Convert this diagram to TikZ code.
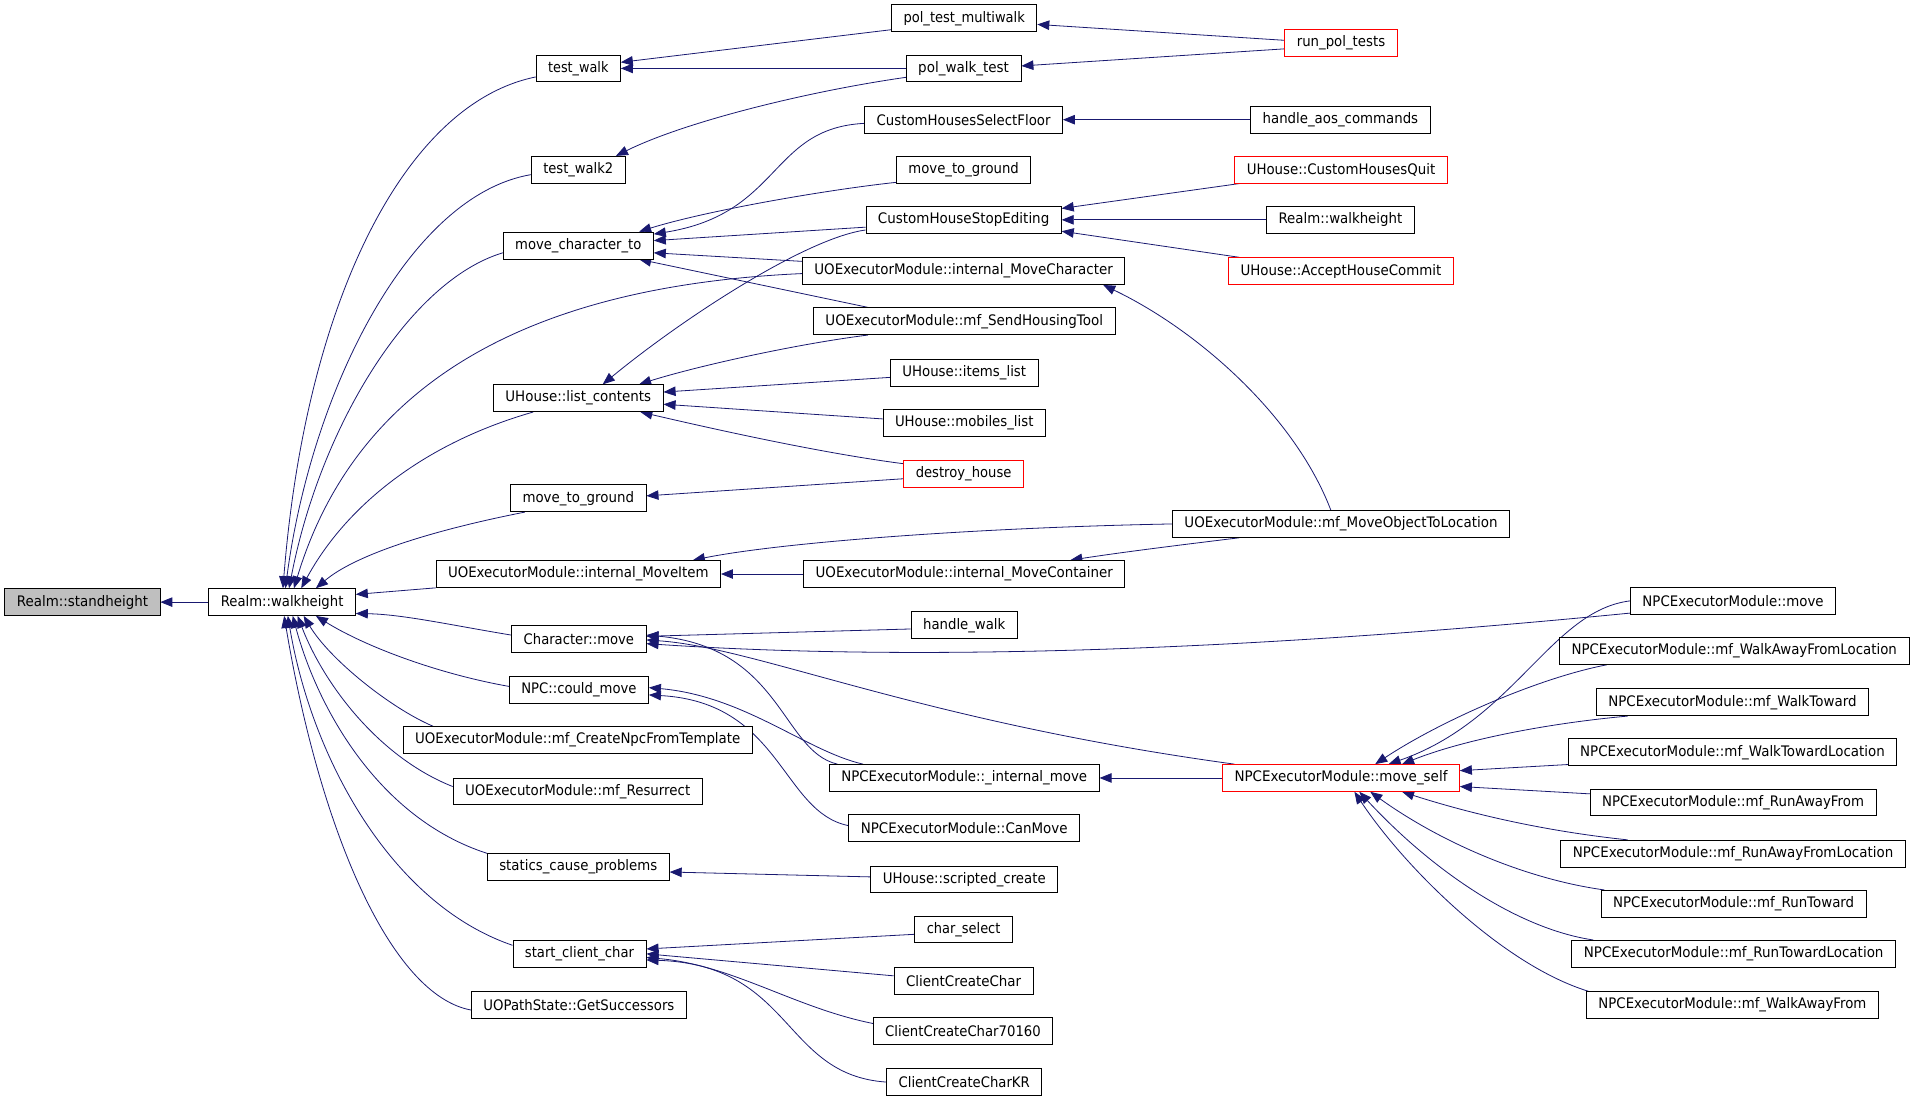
\documentclass[tikz,border=0pt]{standalone}
\usepackage{fontspec}
\setmainfont{DejaVu Sans}
\usetikzlibrary{arrows.meta,calc}
\definecolor{edgeblue}{RGB}{25,25,112}
\definecolor{selgray}{RGB}{191,191,191}
\pgfdeclarelayer{back}
\pgfdeclarelayer{edges}
\pgfsetlayers{back,edges,main}
\newsavebox\lblbox
\newdimen\lblw
\newcommand\fitlbl[2]{\sbox\lblbox{#2}\lblw=\wd\lblbox\pgfmathsetmacro\fitf{(#1)/\the\lblw}\scalebox{\fitf}[1]{\usebox\lblbox}}
\newcommand\bx[7][]{%
  \pgfmathsetmacro\bxw{(#5-#3)*1.2213}%
  \pgfmathsetmacro\bxh{(#6-#4)*1.2213}%
  \pgfmathsetmacro\bxt{\bxw-24}%
  \node[box,#1,minimum width=\bxw pt,minimum height=\bxh pt] (#2) at ({(#3+#5)/2},{(#4+#6)/2}) {\fitlbl{\bxt}{#7}};}
\begin{document}
\begin{tikzpicture}[x=1.2213pt,y=-1.2213pt,
  box/.style={draw=black,line width=0.8pt,fill=white,inner sep=0pt,font=\fontsize{14.5}{16}\selectfont},
  redbox/.style={draw=red},
  edge/.style={draw=edgeblue,line width=0.8pt,-{Triangle[length=12pt,width=9.5pt]}}]
\begin{pgfonlayer}{back}
\fill[white] (0,0) rectangle (1568,901);
\end{pgfonlayer}
\useasboundingbox (0,0) rectangle (1568,901);
% column 1
\bx[fill=selgray]{sh}{4}{482}{131}{504}{Realm::standheight}
\bx{wh}{171}{482}{291}{504}{Realm::walkheight}
% column 2
\bx{tw}{439}{45}{508}{67}{test\_walk}
\bx{tw2}{435}{128}{512}{150}{test\_walk2}
\bx{mct}{412}{190}{535}{212}{move\_character\_to}
\bx{lc}{404}{315}{543}{337}{UHouse::list\_contents}
\bx{mtg}{418}{397}{529}{419}{move\_to\_ground}
\bx{mi}{357}{459}{590}{481}{UOExecutorModule::internal\_MoveItem}
\bx{cm}{419}{512}{529}{534}{Character::move}
\bx{ncm}{417}{554}{531}{576}{NPC::could\_move}
\bx{cnft}{330}{595}{616}{617}{UOExecutorModule::mf\_CreateNpcFromTemplate}
\bx{res}{371}{637}{575}{659}{UOExecutorModule::mf\_Resurrect}
\bx{scp}{399}{699}{548}{721}{statics\_cause\_problems}
\bx{scc}{420}{770}{529}{792}{start\_client\_char}
\bx{gs}{386}{812}{562}{834}{UOPathState::GetSuccessors}
% column 3
\bx{ptm}{730}{4}{849}{26}{pol\_test\_multiwalk}
\bx{pwt}{742}{45}{836}{67}{pol\_walk\_test}
\bx{chsf}{708}{87}{870}{109}{CustomHousesSelectFloor}
\bx{mtg2}{734}{128}{844}{150}{move\_to\_ground}
\bx{chse}{709}{169}{869}{191}{CustomHouseStopEditing}
\bx{imc}{657}{211}{921}{233}{UOExecutorModule::internal\_MoveCharacter}
\bx{sht}{666}{252}{913}{274}{UOExecutorModule::mf\_SendHousingTool}
\bx{il}{729}{294}{850}{316}{UHouse::items\_list}
\bx{ml}{723}{335}{856}{357}{UHouse::mobiles\_list}
\bx[redbox]{dh}{740}{377}{838}{399}{destroy\_house}
\bx{imcont}{658}{459}{921}{481}{UOExecutorModule::internal\_MoveContainer}
\bx{hw}{746}{501}{833}{523}{handle\_walk}
\bx{nim}{679}{626}{900}{648}{NPCExecutorModule::\_internal\_move}
\bx{cmv}{695}{667}{884}{689}{NPCExecutorModule::CanMove}
\bx{usc}{713}{709}{866}{731}{UHouse::scripted\_create}
\bx{cs}{749}{750}{829}{772}{char\_select}
\bx{ccc}{732}{792}{846}{814}{ClientCreateChar}
\bx{ccc7}{715}{833}{862}{855}{ClientCreateChar70160}
\bx{ccck}{726}{875}{853}{897}{ClientCreateCharKR}
% column 4
\bx[redbox]{rpt}{1052}{24}{1144}{46}{run\_pol\_tests}
\bx{hac}{1024}{87}{1171}{109}{handle\_aos\_commands}
\bx[redbox]{chq}{1011}{128}{1185}{150}{UHouse::CustomHousesQuit}
\bx{wh2}{1037}{169}{1158}{191}{Realm::walkheight}
\bx[redbox]{ahc}{1006}{211}{1190}{233}{UHouse::AcceptHouseCommit}
\bx{mol}{960}{418}{1236}{440}{UOExecutorModule::mf\_MoveObjectToLocation}
\bx[redbox]{ms}{1001}{626}{1195}{648}{NPCExecutorModule::move\_self}
% column 5
\bx{nm}{1335}{481}{1503}{503}{NPCExecutorModule::move}
\bx{wafl}{1277}{522}{1563}{544}{NPCExecutorModule::mf\_WalkAwayFromLocation}
\bx{wt}{1307}{564}{1530}{586}{NPCExecutorModule::mf\_WalkToward}
\bx{wtl}{1284}{605}{1553}{627}{NPCExecutorModule::mf\_WalkTowardLocation}
\bx{raf}{1302}{646}{1536}{668}{NPCExecutorModule::mf\_RunAwayFrom}
\bx{rafl}{1278}{688}{1560}{710}{NPCExecutorModule::mf\_RunAwayFromLocation}
\bx{rt}{1311}{729}{1528}{751}{NPCExecutorModule::mf\_RunToward}
\bx{rtl}{1287}{770}{1552}{792}{NPCExecutorModule::mf\_RunTowardLocation}
\bx{waf}{1299}{812}{1538}{834}{NPCExecutorModule::mf\_WalkAwayFrom}

\begin{pgfonlayer}{edges}
% into standheight
\draw[edge] (wh.west) -- (sh.east);
% into walkheight (top)
\draw[edge] ($(tw.west)+(0,7)$) .. controls (330,85) and (250,250) .. ($(wh.north west)+(61,0)$);
\draw[edge] ($(tw2.west)+(0,4)$) .. controls (335,160) and (255,320) .. ($(wh.north west)+(63,0)$);
\draw[edge] ($(mct.west)+(0,6)$) .. controls (335,230) and (262,350) .. ($(wh.north west)+(66,0)$);
\draw[edge] ($(imc.west)+(0,2)$) .. controls (480,232) and (300,285) .. ($(wh.north west)+(70,0)$);
\draw[edge] ($(lc.south west)+(33,0)$) .. controls (340,365) and (280,420) .. ($(wh.north west)+(76,0)$);
\draw[edge] ($(mtg.south west)+(12,0)$) .. controls (350,435) and (290,455) .. ($(wh.north west)+(88,0)$);
% into walkheight (right)
\draw[edge] ($(mi.south west)+(0,0)$) -- ($(wh.north east)+(0,5)$);
\draw[edge] ($(cm.west)+(0,-3)$) .. controls (370,512) and (330,503) .. ($(wh.south east)+(0,-2)$);
% into walkheight (bottom)
\draw[edge] ($(ncm.west)+(0,-3)$) .. controls (360,552) and (300,530) .. ($(wh.south west)+(88,0)$);
\draw[edge] ($(cnft.north west)+(25,0)$) .. controls (320,580) and (270,540) .. ($(wh.south west)+(78,0)$);
\draw[edge] ($(res.west)+(0,-4)$) .. controls (310,620) and (265,560) .. ($(wh.south west)+(73,0)$);
\draw[edge] (scp.north west) .. controls (310,670) and (260,580) .. ($(wh.south west)+(69,0)$);
\draw[edge] ($(scc.west)+(0,-7)$) .. controls (320,740) and (255,620) .. ($(wh.south west)+(65,0)$);
\draw[edge] ($(gs.west)+(0,4)$) .. controls (320,815) and (262,680) .. ($(wh.south west)+(62,0)$);
% test_walk, test_walk2
\draw[edge] ($(ptm.south west)+(0,-2)$) -- ($(tw.east)+(0,-5)$);
\draw[edge] (pwt.west) -- (tw.east);
\draw[edge] ($(pwt.south west)+(0,-4)$) .. controls (660,75) and (560,100) .. ($(tw2.north east)+(-8,0)$);
\draw[edge] ($(rpt.west)+(0,-2)$) -- ($(ptm.east)+(0,5)$);
\draw[edge] ($(rpt.west)+(0,5)$) -- ($(pwt.east)+(0,-2)$);
% CustomHousesSelectFloor, CustomHouseStopEditing
\draw[edge] (hac.west) -- (chsf.east);
\draw[edge] ($(chq.south west)+(4,0)$) -- ($(chse.north east)+(0,2)$);
\draw[edge] (wh2.west) -- (chse.east);
\draw[edge] ($(ahc.north west)+(9,0)$) -- ($(chse.south east)+(0,-2)$);
\draw[edge] ($(mol.north west)+(130,0)$) .. controls (1060,340) and (980,270) .. ($(imc.south east)+(-18,0)$);
% move_character_to
\draw[edge] ($(chsf.west)+(0,3)$) .. controls (630,105) and (640,175) .. ($(mct.north east)+(0,2)$);
\draw[edge] ($(mtg2.south west)+(0,-1)$) .. controls (680,155) and (580,172) .. ($(mct.north east)+(-12,0)$);
\draw[edge] ($(chse.west)+(0,6)$) -- ($(mct.east)+(0,-4)$);
\draw[edge] ($(imc.west)+(0,-8)$) -- ($(mct.east)+(0,6)$);
\draw[edge] ($(sht.north west)+(45,0)$) -- ($(mct.south east)+(-12,0)$);
% list_contents
\draw[edge] ($(chse.south west)+(0,-3)$) .. controls (660,195) and (560,260) .. ($(lc.north)+(20,0)$);
\draw[edge] ($(sht.south west)+(45,0)$) .. controls (650,282) and (570,300) .. ($(lc.north east)+(-20,0)$);
\draw[edge] ($(il.west)+(0,4)$) -- ($(lc.east)+(0,-5)$);
\draw[edge] ($(ml.west)+(0,-3)$) -- ($(lc.east)+(0,5)$);
\draw[edge] ($(dh.north west)+(0,3)$) .. controls (680,372) and (600,355) .. ($(lc.south east)+(-19,0)$);
% move_to_ground
\draw[edge] ($(dh.west)+(0,4)$) -- ($(mtg.east)+(0,-2)$);
% internal_MoveItem / internal_MoveContainer
\draw[edge] (mol.west) .. controls (800,432) and (640,444) .. ($(mi.north east)+(-23,0)$);
\draw[edge] (imcont.west) -- (mi.east);
\draw[edge] ($(mol.south west)+(55,0)$) .. controls (960,447) and (920,452) .. ($(imcont.north east)+(-45,0)$);
% Character::move
\draw[edge] ($(hw.west)+(0,3)$) -- ($(cm.east)+(0,-2)$);
\draw[edge] ($(nm.west)+(0,10)$) .. controls (1100,525) and (800,545) .. ($(cm.east)+(0,4)$);
\draw[edge] ($(nim.north west)+(7,0)$) .. controls (640,615) and (640,530) .. ($(cm.east)+(0,-3)$);
\draw[edge] ($(ms.north west)+(10,0)$) .. controls (750,590) and (620,530) .. ($(cm.east)+(0,1)$);
% NPC::could_move
\draw[edge] ($(nim.north west)+(28,0)$) .. controls (660,615) and (610,570) .. ($(ncm.east)+(0,-2)$);
\draw[edge] ($(cmv.west)+(0,-2)$) .. controls (640,665) and (640,575) .. ($(ncm.east)+(0,4)$);
% statics_cause_problems
\draw[edge] ($(usc.west)+(0,-2)$) -- ($(scp.east)+(0,4)$);
% start_client_char
\draw[edge] ($(cs.west)+(0,4)$) -- ($(scc.east)+(0,-4)$);
\draw[edge] ($(ccc.west)+(0,-4)$) -- (scc.east);
\draw[edge] ($(ccc7.west)+(0,-6)$) .. controls (650,825) and (600,790) .. ($(scc.east)+(0,3)$);
\draw[edge] (ccck.west) .. controls (640,880) and (650,790) .. ($(scc.east)+(0,5)$);
% _internal_move
\draw[edge] (ms.west) -- (nim.east);
% move_self
\draw[edge] (nm.west) .. controls (1270,500) and (1240,590) .. ($(ms.north)+(39,0)$);
\draw[edge] ($(wafl.south west)+(39,0)$) .. controls (1260,555) and (1180,590) .. ($(ms.north)+(28,0)$);
\draw[edge] ($(wt.south west)+(26,0)$) .. controls (1270,592) and (1200,605) .. ($(ms.north)+(50,0)$);
\draw[edge] ($(wtl.west)+(0,10)$) -- ($(ms.east)+(0,-6)$);
\draw[edge] ($(raf.west)+(0,-7)$) -- ($(ms.east)+(0,7)$);
\draw[edge] ($(rafl.north west)+(55,0)$) .. controls (1260,680) and (1200,665) .. ($(ms.south)+(50,0)$);
\draw[edge] ($(rt.north west)+(3,0)$) .. controls (1250,720) and (1180,690) .. ($(ms.south)+(24,0)$);
\draw[edge] ($(rtl.north west)+(18,0)$) .. controls (1240,760) and (1170,710) .. ($(ms.south)+(15,0)$);
\draw[edge] ($(waf.north west)+(2,0)$) .. controls (1230,790) and (1150,710) .. ($(ms.south)+(11,0)$);
\end{pgfonlayer}
\end{tikzpicture}
\end{document}
